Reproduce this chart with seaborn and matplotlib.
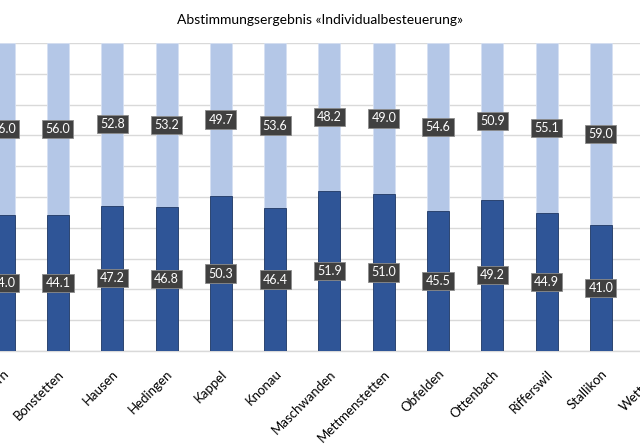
import matplotlib
matplotlib.use('Agg')
import matplotlib.pyplot as plt
import pandas as pd
import seaborn as sns
import numpy as np

# data (Ja / Nein in %), first and last category are cut off in the reference
gemeinden = ['Affoltern', 'Bonstetten', 'Hausen', 'Hedingen', 'Kappel', 'Knonau',
             'Maschwanden', 'Mettmenstetten', 'Obfelden', 'Ottenbach', 'Rifferswil',
             'Stallikon']
order = gemeinden + ['Wettswil']
ja = [44.0, 44.1, 47.2, 46.8, 50.3, 46.4, 51.9, 51.0, 45.5, 49.2, 44.9, 41.0]
nein = [56.0, 56.0, 52.8, 53.2, 49.7, 53.6, 48.2, 49.0, 54.6, 50.9, 55.1, 59.0]

df = pd.DataFrame({'gemeinde': gemeinden, 'ja': ja, 'nein': nein})
tot = df['ja'] + df['nein']
df['ja_pct'] = df['ja'] / tot * 100
df['total_pct'] = tot / tot * 100

sns.set_theme(style='white')
plt.rcParams['font.family'] = ['Lato', 'DejaVu Sans']

fig = plt.figure(figsize=(6.4, 4.48), dpi=100)
ax = fig.add_axes([0, 1 - 351 / 448, 1, (351 - 43) / 448])

dark = '#2F5597'
light = '#B4C7E7'
w = 0.405

sns.barplot(data=df, x='gemeinde', y='total_pct', order=order, color=light,
            saturation=1, width=w, edgecolor='#D6E0F2', linewidth=0.6, ax=ax, zorder=2)
sns.barplot(data=df, x='gemeinde', y='ja_pct', order=order, color=dark,
            saturation=1, width=w, edgecolor='#1F3864', linewidth=0.6, ax=ax, zorder=3)

ax.set_xlim(-0.068, 11.72)
ax.set_ylim(0, 100)
ax.set_yticks(np.arange(0, 101, 10))
ax.set_yticklabels([])
ax.yaxis.grid(True, color='#D9D9D9', linewidth=1)
ax.set_axisbelow(True)
for s in ['left', 'right', 'top']:
    ax.spines[s].set_visible(False)
ax.spines['bottom'].set_color('#D9D9D9')
ax.spines['bottom'].set_linewidth(1)
ax.tick_params(axis='both', length=0)
ax.set_xlabel('')
ax.set_ylabel('')
plt.setp(ax.get_xticklabels(), rotation=45, ha='right', rotation_mode='anchor',
         fontsize=9.5, color='black')
ax.tick_params(axis='x', pad=12)

# last category label lies outside the view limits, so draw it by hand
lbl = ax.get_xticklabels()[0]
ax.annotate(order[-1], xy=(len(order) - 1, 0), xycoords=('data', 'axes fraction'),
            xytext=(0, -12), textcoords='offset points', rotation=45,
            ha='right', va='top', rotation_mode='anchor', fontsize=9.5,
            color='black', annotation_clip=False)

box = dict(boxstyle='square,pad=0.25', fc='#404040', ec='#8C8C8C', lw=0.6)
for i, row in df.iterrows():
    jp = row['ja_pct']
    ax.text(i, jp / 2, f"{row['ja']:.1f}", ha='center', va='center', color='white',
            fontsize=9, bbox=box, zorder=5)
    ax.text(i, jp + (100 - jp) / 2, f"{row['nein']:.1f}", ha='center', va='center',
            color='white', fontsize=9, bbox=box, zorder=5)

fig.text(0.5, 1 - 20 / 448, 'Abstimmungsergebnis «Individualbesteuerung»',
         ha='center', va='center', fontsize=10, color='black')

fig.savefig('out.png', dpi=100)
